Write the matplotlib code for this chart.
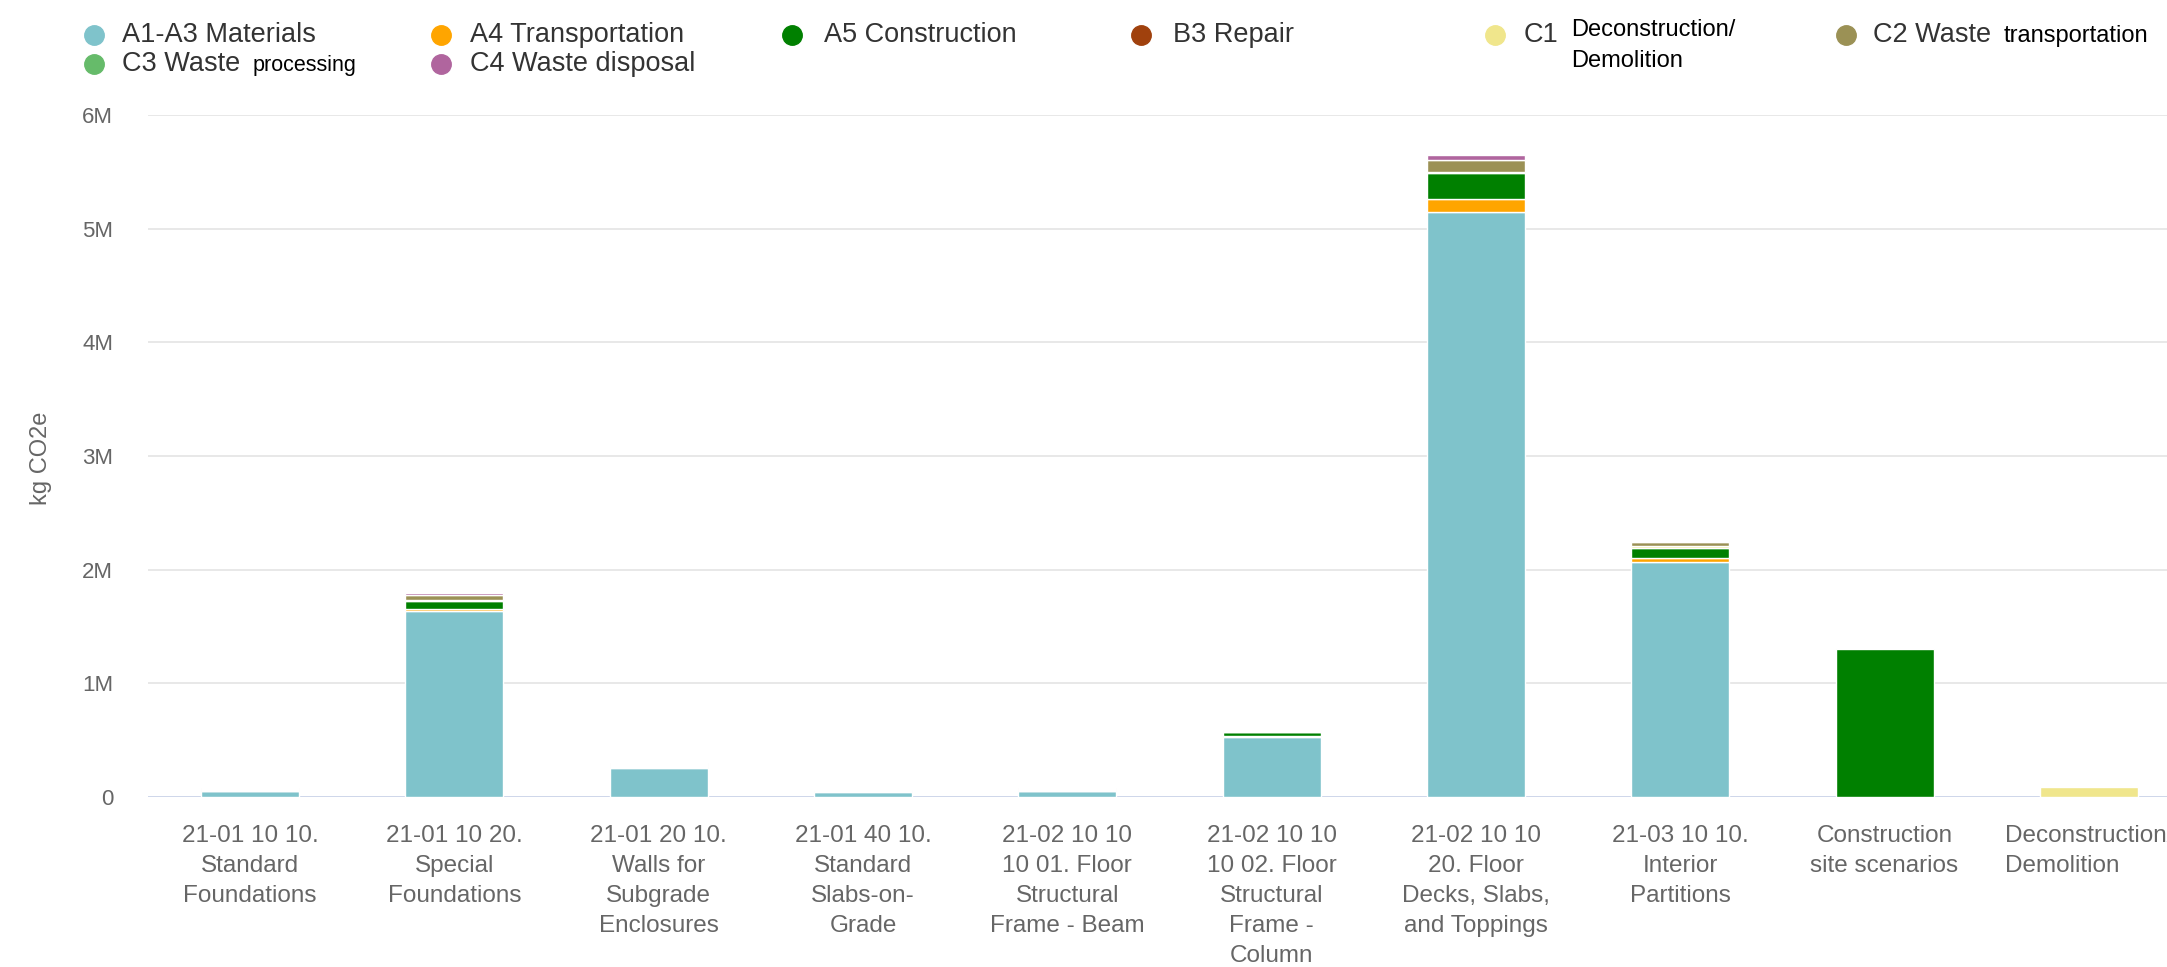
import numpy as np
import matplotlib
matplotlib.use("Agg")
import matplotlib.pyplot as plt
from matplotlib.ticker import FuncFormatter, MultipleLocator
from matplotlib.lines import Line2D

plt.rcParams['font.family'] = ['Liberation Sans', 'DejaVu Sans']

# ---- data (kg CO2e) ----
categories = [
    "21-01 10 10.\nStandard\nFoundations",
    "21-01 10 20.\nSpecial\nFoundations",
    "21-01 20 10.\nWalls for\nSubgrade\nEnclosures",
    "21-01 40 10.\nStandard\nSlabs-on-\nGrade",
    "21-02 10 10\n10 01. Floor\nStructural\nFrame - Beam",
    "21-02 10 10\n10 02. Floor\nStructural\nFrame -\nColumn",
    "21-02 10 10\n20. Floor\nDecks, Slabs,\nand Toppings",
    "21-03 10 10.\nInterior\nPartitions",
    "Construction\nsite scenarios",
    "Deconstruction/\nDemolition",
]

a1_a3_materials = [50000, 1635000, 255000, 45000, 50000, 530000, 5150000, 2065000, 0, 0]
a4_transportation = [5000, 20000, 10000, 5000, 5000, 10000, 110000, 40000, 0, 0]
a5_construction = [5000, 70000, 10000, 3000, 5000, 30000, 230000, 90000, 1300000, 0]
b3_repair = [0, 0, 0, 0, 0, 0, 0, 0, 0, 0]
c1_deconstruction = [3000, 10000, 5000, 2000, 3000, 5000, 10000, 10000, 0, 90000]
c2_waste_transport = [10000, 40000, 10000, 5000, 10000, 10000, 100000, 40000, 0, 0]
c3_waste_processing = [0, 0, 0, 0, 0, 0, 0, 0, 0, 0]
c4_waste_disposal = [5000, 20000, 5000, 3000, 5000, 5000, 50000, 10000, 0, 0]

stage_names = ["A1-A3 Materials", "A4 Transportation", "A5 Construction", "B3 Repair",
               "C1 Deconstruction/Demolition", "C2 Waste transportation",
               "C3 Waste processing", "C4 Waste disposal"]
stage_values = [a1_a3_materials, a4_transportation, a5_construction, b3_repair,
                c1_deconstruction, c2_waste_transport, c3_waste_processing, c4_waste_disposal]
stage_colors = ["#7fc3cb", "#ffa500", "#008000", "#a0410d",
                "#f0e68c", "#9b9155", "#66bb6a", "#b0659e"]

# ---- figure ----
W, H = 2167, 967
fig = plt.figure(figsize=(W / 100, H / 100), dpi=100)
fig.patch.set_facecolor("white")
ax = fig.add_axes([148 / W, 1 - 797 / H, 2043 / W, 682 / H])

x = np.arange(len(categories))
bottom = np.zeros(len(categories))
for name, vals, col in zip(stage_names, stage_values, stage_colors):
    v = np.asarray(vals, dtype=float)
    m = v > 0
    if m.any():
        ax.bar(x[m], v[m], width=0.48, bottom=bottom[m], color=col,
               edgecolor="white", linewidth=1.0, zorder=3)
    bottom += v

ax.set_xlim(-0.5, len(categories) - 0.5)
ax.set_ylim(0, 6e6)
ax.yaxis.set_major_locator(MultipleLocator(1e6))
ax.yaxis.set_major_formatter(FuncFormatter(lambda v, p: "0" if v == 0 else f"{v / 1e6:.0f}M"))
ax.grid(axis="y", color="#e6e6e6", linewidth=1.3, zorder=0)
ax.set_axisbelow(True)
for s in ax.spines.values():
    s.set_visible(False)
ax.axhline(0, color="#ccd6eb", linewidth=2, zorder=2)

ax.set_xticks(x)
ax.set_xticklabels(categories, linespacing=1.47)
ax.tick_params(axis="x", length=0, pad=20, labelsize=17.5, colors="#666666")
ax.tick_params(axis="y", length=0, pad=25, labelsize=16, colors="#666666")
xlabels = ax.get_xticklabels()
for lbl in xlabels:
    lbl.set_ha("center")
xlabels[-1].set_multialignment("left")

fig.text(41 / W, 1 - 458 / H, "kg CO2e", rotation=90, ha="center", va="center",
         fontsize=17, color="#666666")

# ---- legend ----
legend_main = ["A1-A3 Materials", "A4 Transportation", "A5 Construction", "B3 Repair",
               "C1", "C2 Waste", "C3 Waste", "C4 Waste disposal"]
legend_extra = [None, None, None, None, "Deconstruction/\nDemolition", "transportation",
                "processing", None]
extra_size = [None, None, None, None, 17, 17, 15.5, None]
marker_x = [94, 441, 792, 1141, 1495, 1846, 94, 441]
text_x = [122, 470, 824, 1173, 1524, 1873, 122, 470]
row_y = [35, 35, 35, 35, 35, 35, 64, 64]

fig.canvas.draw()
renderer = fig.canvas.get_renderer()
for main, extra, esz, mx, tx, ry, col in zip(legend_main, legend_extra, extra_size,
                                            marker_x, text_x, row_y, stage_colors):
    fig.add_artist(Line2D([mx / W], [1 - ry / H], transform=fig.transFigure, marker="o",
                          markersize=14, color=col, linestyle="none"))
    t = fig.text(tx / W, 1 - (ry + 7) / H, main, ha="left", va="baseline",
                 fontsize=19.5, color="#333333")
    if extra:
        bb = t.get_window_extent(renderer)
        ex = (bb.x1 + 12) / W
        if "\n" in extra:
            fig.text(ex, 1 - 19 / H, extra, ha="left", va="top", fontsize=esz,
                     color="#000000", linespacing=1.55)
        else:
            fig.text(ex, 1 - (ry + 7) / H, extra, ha="left", va="baseline",
                     fontsize=esz, color="#000000")

fig.savefig("out.png", dpi=100)
